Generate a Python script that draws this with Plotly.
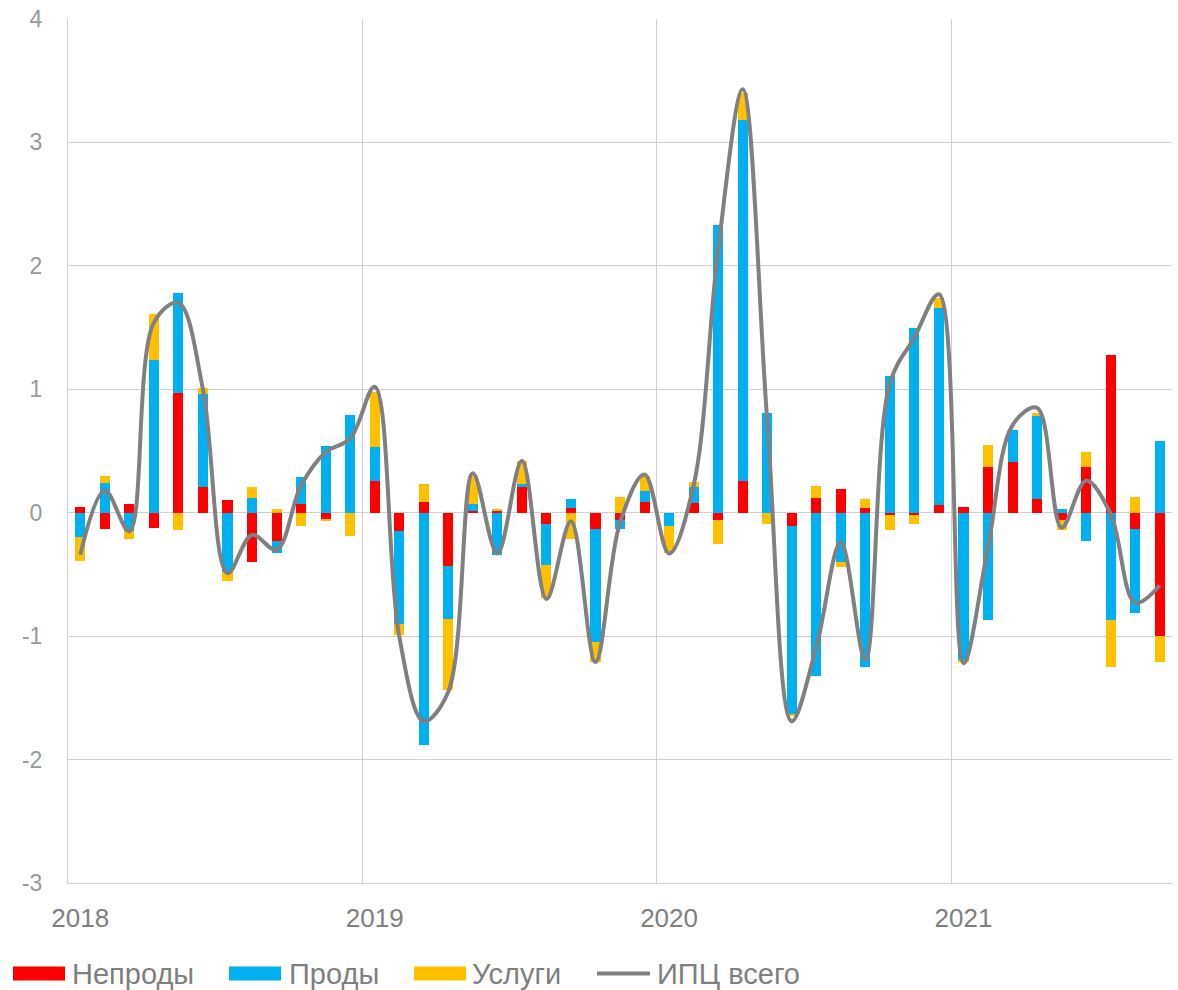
import plotly.graph_objects as go

# ---- data (monthly contributions to CPI, p.p.) ----
months = [f"{y}-{m:02d}" for y in (2018, 2019, 2020, 2021) for m in range(1, 13)][:45]

non_food = [0.05, -0.13, 0.07, -0.12, 0.97, 0.21, 0.10, -0.40, -0.23, 0.07, -0.05, 0.00,
            0.26, -0.15, 0.09, -0.43, 0.01, 0.02, 0.21, -0.09, 0.04, -0.13, -0.06, 0.09,
            0.00, 0.08, -0.06, 0.26, 0.00, -0.11, 0.12, 0.19, 0.04, -0.02, -0.02, 0.06,
            0.05, 0.37, 0.41, 0.11, -0.06, 0.37, 1.28, -0.13, -1.00]

food = [-0.20, 0.24, -0.15, 1.24, 0.81, 0.75, -0.48, 0.12, -0.10, 0.22, 0.54, 0.79,
        0.27, -0.75, -1.88, -0.43, 0.06, -0.34, 0.02, -0.33, 0.07, -0.92, -0.07, 0.09,
        -0.11, 0.13, 2.33, 2.92, 0.81, -1.52, -1.32, -0.40, -1.25, 1.11, 1.50, 1.60,
        -1.20, -0.87, 0.26, 0.67, 0.03, -0.23, -0.87, -0.68, 0.58]

services = [-0.19, 0.06, -0.06, 0.37, -0.14, 0.05, -0.07, 0.09, 0.03, -0.11, -0.02, -0.19,
            0.45, -0.09, 0.14, -0.58, 0.23, 0.01, 0.19, -0.27, -0.21, -0.16, 0.13, 0.12,
            -0.22, 0.04, -0.19, 0.22, -0.09, -0.02, 0.10, -0.04, 0.07, -0.12, -0.07, 0.08,
            -0.01, 0.18, 0.00, 0.03, -0.08, 0.12, -0.38, 0.13, -0.21]

cpi_total = [-0.34, 0.18, -0.15, 1.54, 1.70, 1.00, -0.49, -0.18, -0.30, 0.22, 0.49, 0.60,
             1.02, -1.00, -1.69, -1.45, 0.32, -0.33, 0.42, -0.70, -0.07, -1.21, -0.08, 0.31,
             -0.33, 0.22, 2.13, 3.43, 0.75, -1.69, -1.09, -0.24, -1.19, 1.05, 1.42, 1.77,
             -1.22, -0.28, 0.71, 0.85, -0.12, 0.26, -0.01, -0.73, -0.59]

year_labels = ["2018", "2019", "2020", "2021"]
y_ticks = [-3, -2, -1, 0, 1, 2, 3, 4]
y_tick_labels = ["-3", "-2", "-1", "0", "1", "2", "3", "4"]
series_names = ["Непроды", "Проды", "Услуги", "ИПЦ всего"]

# ---- styling ----
RED, BLUE, YELLOW, GRAY = "#FF0000", "#00B0F0", "#FFC000", "#808080"
GRID = "#d0d0d0"
FONT = "Liberation Sans, Arial, sans-serif"

W, H = 1178, 990
L, R, T, B = 68, 6, 15, 107
PW, PH = W - L - R, H - T - B

idx = list(range(len(months)))
year_idx = [i for i, m in enumerate(months) if m.endswith("-01")]

fig = go.Figure()
for name, vals, col in zip(series_names[:3], [non_food, food, services], [RED, BLUE, YELLOW]):
    fig.add_trace(go.Bar(x=idx, y=vals, name=name, marker=dict(color=col, line=dict(width=0)),
                         width=0.41, customdata=months,
                         hovertemplate="%{customdata}: %{y}<extra>" + name + "</extra>"))

fig.add_trace(go.Scatter(x=idx, y=cpi_total, name=series_names[3], mode="lines",
                         line=dict(color=GRAY, width=4, shape="spline", smoothing=1.0),
                         customdata=months,
                         hovertemplate="%{customdata}: %{y}<extra>" + series_names[3] + "</extra>"))

fig.update_layout(
    barmode="relative",
    width=W, height=H,
    margin=dict(l=L, r=R, t=T, b=B),
    plot_bgcolor="white", paper_bgcolor="white",
    showlegend=False,
    font=dict(family=FONT),
    bargap=0,
)

fig.update_xaxes(
    range=[-0.5, len(months) - 0.5],
    tickmode="array", tickvals=year_idx, ticktext=year_labels,
    showgrid=False, ticks="", zeroline=False,
    tickfont=dict(size=26, color="#7f7f7f", family=FONT),
    ticklabelstandoff=12,
    minor=dict(tickmode="array", tickvals=[i - 0.5 for i in year_idx], showgrid=True,
               gridcolor=GRID, gridwidth=1, ticks=""),
    showline=True, linecolor=GRID, linewidth=1,
)
fig.update_yaxes(
    range=[-3, 4], tickmode="array", tickvals=y_ticks, ticktext=y_tick_labels,
    showgrid=True, gridcolor=GRID, gridwidth=1,
    zeroline=False, ticks="",
    tickfont=dict(size=23, color="#999999", family=FONT),
    ticklabelstandoff=20,
    showline=True, linecolor=GRID, linewidth=1,
)

# ---- custom legend (paper coordinates derived from pixel layout) ----
def px(x):
    return (x - L) / PW

def py(y):
    return (H - B - y) / PH

legend_y = 974
items = [
    (series_names[0], RED, 13, 70, "rect"),
    (series_names[1], BLUE, 229, 287, "rect"),
    (series_names[2], YELLOW, 414, 470, "rect"),
    (series_names[3], GRAY, 597, 655, "line"),
]
for name, col, x0, xt, kind in items:
    if kind == "rect":
        fig.add_shape(type="rect", xref="paper", yref="paper",
                      x0=px(x0), x1=px(x0 + 52), y0=py(legend_y + 7), y1=py(legend_y - 7),
                      fillcolor=col, line=dict(width=0), layer="above")
    else:
        fig.add_shape(type="line", xref="paper", yref="paper",
                      x0=px(x0), x1=px(x0 + 53), y0=py(legend_y), y1=py(legend_y),
                      line=dict(color=col, width=4), layer="above")
    fig.add_annotation(text=name, xref="paper", yref="paper", x=px(xt), y=py(legend_y),
                       xanchor="left", yanchor="middle", showarrow=False,
                       font=dict(size=29, color="#7f7f7f", family=FONT))

fig.write_html("out.html", config={"displayModeBar": False},
               post_script="document.body.style.margin='0';")
